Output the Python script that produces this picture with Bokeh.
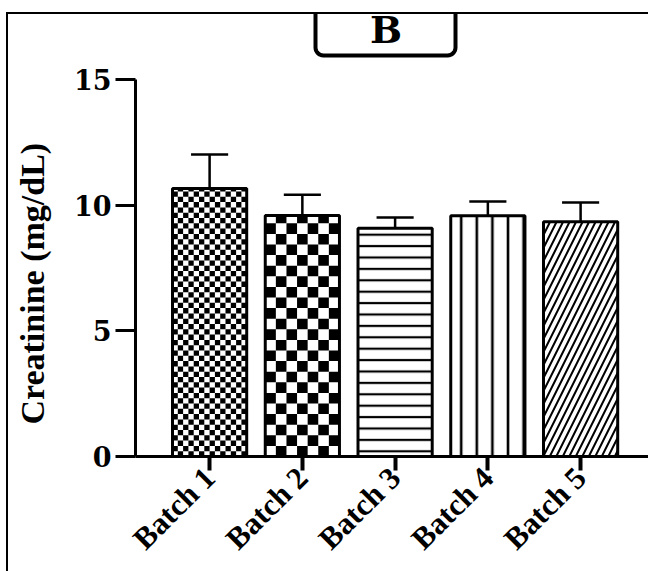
import numpy as np
from bokeh.plotting import figure
from bokeh.models import Range1d, FixedTicker, Label
from bokeh.embed import file_html
from bokeh.resources import INLINE

# ---- data ----
categories = ["Batch 1", "Batch 2", "Batch 3", "Batch 4", "Batch 5"]
positions = [1, 2, 3, 4, 5]
creatinine = [10.66, 9.59, 9.08, 9.58, 9.34]
sem = [1.36, 0.82, 0.43, 0.57, 0.77]
y_ticks = [0, 5, 10, 15]
panel_letter = "B"
y_title = "Creatinine (mg/dL)"

# ---- layout constants ----
W, H = 648, 571
LEFT, BOTTOM = 135, 115
FRAME_W, FRAME_H = W - LEFT, H - BOTTOM
X0, X1 = 0.201, 5.732
Y0, Y1 = 0.0, 18.143
PX_X = FRAME_W / (X1 - X0)
PX_Y = FRAME_H / (Y1 - Y0)
BAR_W = 0.8

SERIF = "Liberation Serif"
WIDE = "DejaVu Serif"

p = figure(width=W, height=H, x_range=Range1d(X0, X1), y_range=Range1d(Y0, Y1),
           output_backend="svg", toolbar_location=None,
           min_border_left=LEFT, min_border_right=0, min_border_top=0,
           min_border_bottom=BOTTOM)
p.outline_line_color = None
p.xgrid.visible = False
p.ygrid.visible = False
p.background_fill_color = None
p.border_fill_color = None
# outer frame lines (top and left) drawn behind the transparent canvas
p.styles = {
    "background-color": "white",
    "background-image": "linear-gradient(#000,#000), linear-gradient(#000,#000)",
    "background-size": "2px 700px, 800px 2px",
    "background-position": "6px 12px, 6px 12px",
    "background-repeat": "no-repeat",
}

# bars with hatch fills
hatches = [" ", " ", "horizontal_line", "vertical_line", "right_diagonal_line"]
scales = [10, 10, 11.4, 15.6, 13]
weights = [1, 1, 2.2, 2.6, 2.0]
for i in range(5):
    p.vbar(x=[positions[i]], top=[creatinine[i]], width=BAR_W, bottom=0,
           fill_color="white", line_color=None,
           hatch_pattern=hatches[i], hatch_color="black",
           hatch_scale=scales[i], hatch_weight=weights[i])

# checkerboard cells for batch 1 and 2 (derived from bar values)
def checker(i, ncols):
    cw = BAR_W / ncols
    ch = cw * PX_X / PX_Y
    nrows = int(np.ceil(creatinine[i] / ch))
    L, R, B, T = [], [], [], []
    for r in range(nrows):
        for c in range(ncols):
            if (r + c) % 2 == 1:
                L.append(positions[i] - BAR_W / 2 + c * cw)
                R.append(positions[i] - BAR_W / 2 + (c + 1) * cw)
                B.append(r * ch)
                T.append(min((r + 1) * ch, creatinine[i]))
    p.quad(left=L, right=R, bottom=B, top=T, fill_color="black", line_color=None)

checker(0, 14)
checker(1, 7)

# bar outlines
p.vbar(x=positions, top=creatinine, width=BAR_W, bottom=0,
       fill_color=None, line_color="black", line_width=3)

# error bars (upper only)
upper = [v + e for v, e in zip(creatinine, sem)]
p.segment(x0=positions, y0=creatinine, x1=positions, y1=upper,
          line_color="black", line_width=2.5)
p.segment(x0=[x - 0.2 for x in positions], y0=upper,
          x1=[x + 0.2 for x in positions], y1=upper,
          line_color="black", line_width=2.5)

# axes
yax = p.yaxis[0]
yax.ticker = FixedTicker(ticks=y_ticks)
yax.bounds = (0, 15)
yax.minor_tick_line_color = None
yax.axis_line_width = 3
yax.major_tick_line_width = 3
yax.major_tick_out = 20
yax.major_tick_in = 0
yax.major_label_standoff = 4
yax.major_label_text_font = WIDE
yax.major_label_text_font_style = "bold"
yax.major_label_text_font_size = "27px"
yax.major_label_text_color = "black"
# trailing wide spaces shift the centred title down to sit beside the 0-15 axis
yax.axis_label = y_title + "\u2003" * 3 + "\u00a0"
yax.axis_label_text_font = SERIF
yax.axis_label_text_font_style = "bold"
yax.axis_label_text_font_size = "34px"
yax.axis_label_text_color = "black"
yax.axis_label_standoff = 20

xax = p.xaxis[0]
xax.ticker = FixedTicker(ticks=positions)
xax.major_label_overrides = {pos: lab for pos, lab in zip(positions, categories)}
xax.minor_tick_line_color = None
xax.axis_line_width = 3
xax.major_tick_line_width = 4
xax.major_tick_out = 14
xax.major_tick_in = 0
xax.major_label_standoff = 2
xax.major_label_orientation = np.pi / 4
xax.major_label_text_font = SERIF
xax.major_label_text_font_style = "bold"
xax.major_label_text_font_size = "31px"
xax.major_label_text_color = "black"

# panel letter box (U shape with rounded lower corners, hanging from the frame line)
def px_to_x(px):
    return X0 + (px - LEFT) / PX_X

def py_to_y(py):
    return Y1 - py / PX_Y

bl, br, bb, bt, rad = 315, 455, 55, 12, 8
t1 = np.linspace(np.pi, np.pi / 2, 8)
t2 = np.linspace(np.pi / 2, 0, 8)
bx = [bl] + list(bl + rad + rad * np.cos(t1)) + list(br - rad + rad * np.cos(t2)) + [br]
by = [bt] + list(bb - rad + rad * np.sin(t1)) + list(bb - rad + rad * np.sin(t2)) + [bt]
p.line([px_to_x(v) for v in bx], [py_to_y(v) for v in by],
       line_color="black", line_width=4, line_join="round")

p.add_layout(Label(x=px_to_x(385.5), y=py_to_y(29), text=panel_letter,
                   text_font=WIDE, text_font_style="bold", text_font_size="38px",
                   text_align="center", text_baseline="middle", text_color="black"))

open("out.html", "w").write(file_html(p, INLINE))
